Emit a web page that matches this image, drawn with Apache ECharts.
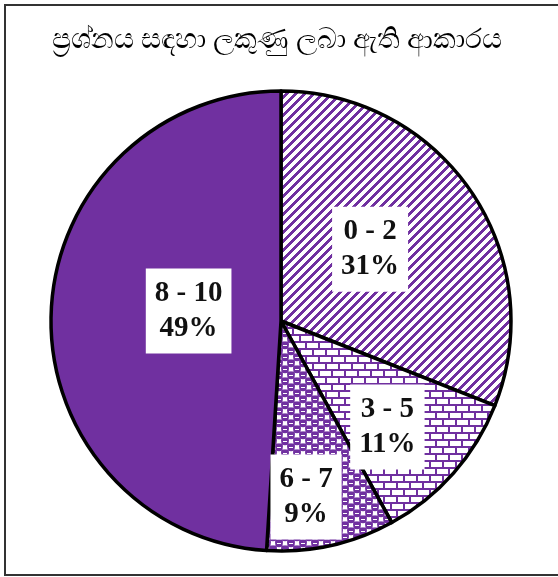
<!DOCTYPE html>
<html><head><meta charset="utf-8">
<script src="https://cdn.jsdelivr.net/npm/echarts@6/dist/echarts.min.js"></script>
<style>
html,body{margin:0;padding:0;background:#fff;}
#wrap{position:absolute;left:4px;top:4px;width:554px;height:572px;border-left:2px solid #333;border-top:2px solid #333;border-bottom:2px solid #333;box-sizing:border-box;}
#chart{position:absolute;left:0;top:0;width:558px;height:577px;}
</style></head>
<body>
<div id="wrap"></div>
<div id="chart"></div>
<script>
const titleText = 'ප්‍රශ්නය සඳහා ලකුණු ලබා ඇති ආකාරය';
const categories = ['0 - 2', '3 - 5', '6 - 7', '8 - 10'];
const values = [31, 11, 9, 49];
const percentLabels = ['31%', '11%', '9%', '49%'];

const PURPLE = '#7030A0';
function mk(w, h, draw) {
  const c = document.createElement('canvas');
  c.width = w; c.height = h;
  const g = c.getContext('2d');
  g.fillStyle = '#fff'; g.fillRect(0, 0, w, h);
  draw(g);
  return { image: c, repeat: 'repeat' };
}
// diagonal stripes "/"
const stripes = mk(9, 9, g => {
  g.fillStyle = PURPLE;
  for (let y = 0; y < 9; y++) for (let x = 0; x < 9; x++) {
    if ((x + y) % 9 < 4) g.fillRect(x, y, 1, 1);
  }
});
// bricks
const bricks = mk(13, 14, g => {
  g.fillStyle = PURPLE;
  g.fillRect(0, 5, 13, 2);
  g.fillRect(0, 12, 13, 2);
  g.fillRect(0, 0, 2, 6);
  g.fillRect(6, 7, 2, 6);
});
// checker of dots
const dots = mk(12, 12, g => {
  g.fillStyle = PURPLE;
  function blob(x, y) {
    g.beginPath(); g.arc(x, y + 0.5, 3.8, 0, Math.PI * 2); g.fill();
    g.fillRect(x - 3.8, y - 3.5, 7.6, 3.5);
  }
  [[3, 3], [9, 9], [-3, 9], [15, 3], [9, -3], [3, 15], [15, 15], [-3, -3]].forEach(p => blob(p[0], p[1]));
  g.fillStyle = '#fff';
  g.fillRect(1, 3, 4, 1); g.fillRect(7, 9, 4, 1);
});
const fills = [stripes, bricks, dots, PURPLE];
// label placement (fraction of radius, angle clockwise from top in degrees)
const labelRadii = [0.497, 0.653, 0.773, 0.404];
const labelAngles = [51.2, 134.9, 171.9, 276.2];

const CX = 281, CY = 321, R = 230;

const chart = echarts.init(document.getElementById('chart'), null, { renderer: 'canvas' });
chart.setOption({
  animation: false,
  title: {
    text: titleText, left: 272, top: 21, textAlign: 'center',
    textStyle: { fontFamily: 'Noto Sans, DejaVu Sans', fontSize: 28, fontWeight: 'normal', color: '#000' }
  },
  series: [{
    type: 'pie',
    center: [CX, CY],
    radius: [0, R],
    startAngle: 90,
    clockwise: true,
    data: categories.map((c, i) => ({
      name: c, value: values[i],
      itemStyle: { color: fills[i] }
    })),
    itemStyle: { borderColor: '#000', borderWidth: 3.5 },
    label: {
      show: true, position: 'inside',
      formatter: p => p.name + '\n' + percentLabels[p.dataIndex],
      fontFamily: 'Liberation Serif', fontWeight: 'bold', fontSize: 29, lineHeight: 35,
      color: '#111', backgroundColor: '#fff', padding: [8, 9, 7, 9], align: 'center'
    },
    labelLayout: p => {
      const i = p.dataIndex, a = labelAngles[i] * Math.PI / 180, d = labelRadii[i] * R;
      return { x: CX + d * Math.sin(a), y: CY - d * Math.cos(a), align: 'center', verticalAlign: 'middle' };
    },
    emphasis: { disabled: true }
  }]
});
</script>
</body></html>
